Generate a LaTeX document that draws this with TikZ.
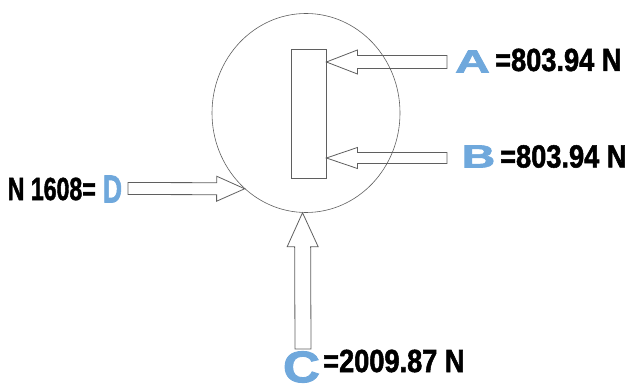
\documentclass[tikz,border=0pt]{standalone}
\usepackage{fontspec}
\usepackage{xcolor}
\usepackage{tikz}
\usetikzlibrary{calc}
\usetikzlibrary{shapes.geometric}
\newfontfamily\valfont{Liberation Sans}[FakeStretch=0.85, BoldFeatures={FakeBold=1.6}]
\newfontfamily\letfont{Liberation Sans}[BoldFeatures={FakeBold=2}]
\definecolor{edge}{RGB}{95,95,95}
\definecolor{letblue}{RGB}{111,168,220}
\tikzset{ring/.style={ellipse, draw=edge, line width=0.6pt, minimum width=188pt, minimum height=199pt, inner sep=0pt}}
\tikzset{bar/.style={rectangle, draw=edge, line width=0.8pt, minimum width=35pt, minimum height=129pt, inner sep=0pt}}
\tikzset{letter/.style={font=\letfont\bfseries\fontsize{32}{36}\selectfont, text=letblue, inner sep=0pt}}
\tikzset{value/.style={font=\valfont\bfseries\fontsize{32}{36}\selectfont, text=black, inner sep=0pt}}
\tikzset{force/.style args={#1/#2/#3}{draw=edge, line width=0.8pt, line join=miter, to path={
	-- ($(\tikztostart)!#1!90:(\tikztotarget)$)
	-- ($($(\tikztotarget)!#3!(\tikztostart)$)!#1!90:(\tikztotarget)$)
	-- ($($(\tikztotarget)!#3!(\tikztostart)$)!#2!90:(\tikztotarget)$)
	-- (\tikztotarget)
	-- ($($(\tikztotarget)!#3!(\tikztostart)$)!#2!-90:(\tikztotarget)$)
	-- ($($(\tikztotarget)!#3!(\tikztostart)$)!#1!-90:(\tikztotarget)$)
	-- ($(\tikztostart)!#1!-90:(\tikztotarget)$)
	-- cycle}}}

\begin{document}
\begin{tikzpicture}[x=1pt, y=-1pt]
		\useasboundingbox (0,0) rectangle (628,387);
		
		\node[ring] (ring) at (306,113) {};
		\node[bar] (bar) at (308.5,113.5) {};
		
		% labels
		\node[letter, xscale=1.5] (letA) at (472.5,61.5) {A};
		\node[value, anchor=west] (valA) at (495,60) {=803.94 N};
		
		\node[letter, xscale=1.45] (letB) at (478.5,156.5) {B};
		\node[value, anchor=west] (valB) at (500,156.5) {=803.94 N};
		
		\node[letter, xscale=1.6, yscale=1.38] (letC) at (301.5,367) {C};
		\node[value, anchor=west] (valC) at (323,361) {=2009.87 N};
		
		\node[letter, xscale=0.83, yscale=1.22] (letD) at (112.5,189) {D};
		\node[value, anchor=east, xscale=0.85] (valD) at (96,189) {N 1608=};
		
		% arrow ends
		\coordinate (tipA) at (bar.east |- 0,62);
		\coordinate (tailA) at (447,62);
		\coordinate (tipB) at (bar.east |- 0,158);
		\coordinate (tailB) at (447,158);
		\coordinate (tailC) at (303,349);
		\coordinate (tailD) at (128,188.5);
		
		\draw[force=6.5pt/12pt/31pt] (tailA) to (tipA);
		\draw[force=5.5pt/10.5pt/31pt] (tailB) to (tipB);
		\draw[force=8pt/15.5pt/34pt] (tailC) to (ring.268);
		\draw[force=6pt/12.5pt/28pt] (tailD) to (ring.231);
	\end{tikzpicture}
\end{document}
